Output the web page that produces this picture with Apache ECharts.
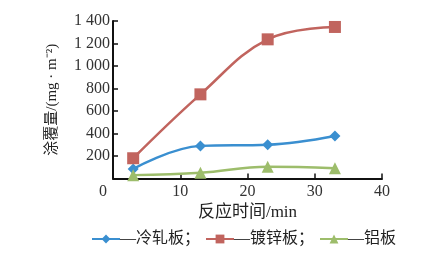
<!DOCTYPE html>
<html><head><meta charset="utf-8">
<script src="https://cdn.jsdelivr.net/npm/echarts@6/dist/echarts.min.js"></script>
<style>html,body{margin:0;padding:0;background:#fff}#c{width:432px;height:254px}</style>
</head><body><div id="c"></div>
<script>
const times = [3, 13, 23, 33];
const seriesNames = ['—冷轧板；', '—镀锌板；', '—铝板'];
const coldRolled = [85, 290, 300, 378];
const galvanized = [180, 748, 1237, 1347];
const aluminum = [30, 52, 105, 92];
const xTicks = [0, 10, 20, 30, 40];
const yTicks = [0, 200, 400, 600, 800, 1000, 1200, 1400];

const colors = ['#3a8fd0', '#c1645e', '#9dbd6b'];
const symbols = ['diamond', 'rect', 'triangle'];
const sizes = [11, 12, 12];
const datas = [coldRolled, galvanized, aluminum];
const serifFont = '"Liberation Serif", "Noto Sans CJK SC", serif';

const chart = echarts.init(document.getElementById('c'));
chart.setOption({
  animation: false,
  backgroundColor: '#fff',
  grid: { left: 113, right: 50, top: 21, bottom: 75.5 },
  legend: {
    left: 86, top: 226,
    itemWidth: 28, itemHeight: 11, itemGap: 5,
    textStyle: { fontFamily: serifFont, fontSize: 16, color: '#222', padding: [0, 0, 0, -5] },
    data: seriesNames
  },
  xAxis: {
    type: 'value', min: 0, max: 40, interval: 10,
    name: '反应时间/min', nameLocation: 'middle', nameGap: 26,
    nameTextStyle: { fontFamily: serifFont, fontSize: 17, color: '#222' },
    axisLine: { lineStyle: { color: '#111', width: 2 } },
    axisTick: { inside: true, length: 5, lineStyle: { color: '#111', width: 1.5 } },
    axisLabel: {
      fontFamily: serifFont, fontSize: 16, color: '#333', margin: 5,
      formatter: v => v === 0 ? '{z|0}' : String(v),
      rich: { z: { fontFamily: serifFont, fontSize: 16, color: '#333', padding: [0, 20, 0, 0] } }
    },
    splitLine: { show: false }
  },
  yAxis: {
    type: 'value', min: 0, max: 1400, interval: 200,
    name: '涂覆量/(mg · m⁻²)', nameLocation: 'middle', nameGap: 53, nameRotate: 90,
    nameTextStyle: { fontFamily: serifFont, fontSize: 15, color: '#222' },
    axisLine: { show: true, lineStyle: { color: '#111', width: 2 } },
    axisTick: { show: true, inside: true, length: 5, lineStyle: { color: '#111', width: 1.5 } },
    axisLabel: {
      fontFamily: serifFont, fontSize: 16, color: '#333', margin: 3,
      formatter: v => v === 0 ? '' : String(v).replace(/\B(?=(\d{3})+(?!\d))/g, ' ')
    },
    splitLine: { show: false }
  },
  series: seriesNames.map((n, i) => ({
    name: n, type: 'line', smooth: 0.4,
    data: times.map((t, j) => [t, datas[i][j]]),
    symbol: symbols[i], symbolSize: sizes[i],
    lineStyle: { color: colors[i], width: 2.5 },
    itemStyle: { color: colors[i] }
  }))
});
</script></body></html>
